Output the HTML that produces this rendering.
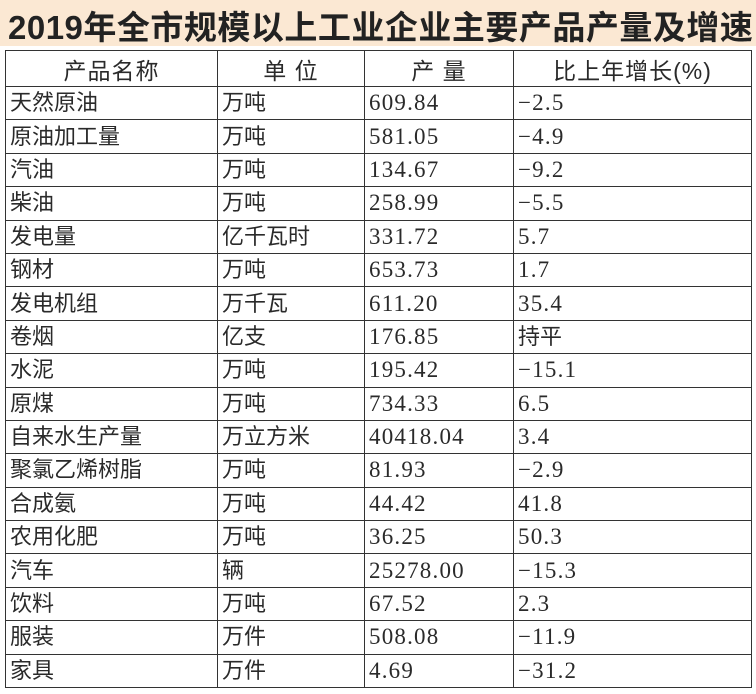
<!DOCTYPE html>
<html><head><meta charset="utf-8"><style>
body{margin:0;width:756px;height:694px;background:#fff;overflow:hidden;position:relative}
.t{position:absolute;left:0;top:0;width:756px;height:46px;background:#fbe8d3;}
.t div{position:absolute;left:8px;top:1px;font:bold 33px "Liberation Sans","Noto Sans CJK SC",sans-serif;color:#222;letter-spacing:0.5px;white-space:nowrap}
table{position:absolute;left:5px;top:50px;border-collapse:collapse;font:22px "Liberation Serif","Noto Sans CJK SC",serif;color:#2a2a2a}
td{border:1.5px solid #333;height:32.4px;padding:0 0 0 4px;white-space:nowrap;line-height:32px}
td.n{font-size:23px;letter-spacing:1.2px}
tr.h td{height:35px;text-align:center;font:23px "Liberation Sans","Noto Sans CJK SC",sans-serif;padding:0;letter-spacing:1px}
</style></head><body>
<div class="t"><div>2019年全市规模以上工业企业主要产品产量及增速</div></div>
<table>
<colgroup><col style="width:212px"><col style="width:147px"><col style="width:149px"><col style="width:238px"></colgroup>
<tr class="h"><td>产品名称</td><td>单 位</td><td>产 量</td><td>比上年增长(%)</td></tr>
<tr><td>天然原油</td><td>万吨</td><td class="n">609.84</td><td class="n">−2.5</td></tr>
<tr><td>原油加工量</td><td>万吨</td><td class="n">581.05</td><td class="n">−4.9</td></tr>
<tr><td>汽油</td><td>万吨</td><td class="n">134.67</td><td class="n">−9.2</td></tr>
<tr><td>柴油</td><td>万吨</td><td class="n">258.99</td><td class="n">−5.5</td></tr>
<tr><td>发电量</td><td>亿千瓦时</td><td class="n">331.72</td><td class="n">5.7</td></tr>
<tr><td>钢材</td><td>万吨</td><td class="n">653.73</td><td class="n">1.7</td></tr>
<tr><td>发电机组</td><td>万千瓦</td><td class="n">611.20</td><td class="n">35.4</td></tr>
<tr><td>卷烟</td><td>亿支</td><td class="n">176.85</td><td>持平</td></tr>
<tr><td>水泥</td><td>万吨</td><td class="n">195.42</td><td class="n">−15.1</td></tr>
<tr><td>原煤</td><td>万吨</td><td class="n">734.33</td><td class="n">6.5</td></tr>
<tr><td>自来水生产量</td><td>万立方米</td><td class="n">40418.04</td><td class="n">3.4</td></tr>
<tr><td>聚氯乙烯树脂</td><td>万吨</td><td class="n">81.93</td><td class="n">−2.9</td></tr>
<tr><td>合成氨</td><td>万吨</td><td class="n">44.42</td><td class="n">41.8</td></tr>
<tr><td>农用化肥</td><td>万吨</td><td class="n">36.25</td><td class="n">50.3</td></tr>
<tr><td>汽车</td><td>辆</td><td class="n">25278.00</td><td class="n">−15.3</td></tr>
<tr><td>饮料</td><td>万吨</td><td class="n">67.52</td><td class="n">2.3</td></tr>
<tr><td>服装</td><td>万件</td><td class="n">508.08</td><td class="n">−11.9</td></tr>
<tr><td>家具</td><td>万件</td><td class="n">4.69</td><td class="n">−31.2</td></tr>
</table>
</body></html>
